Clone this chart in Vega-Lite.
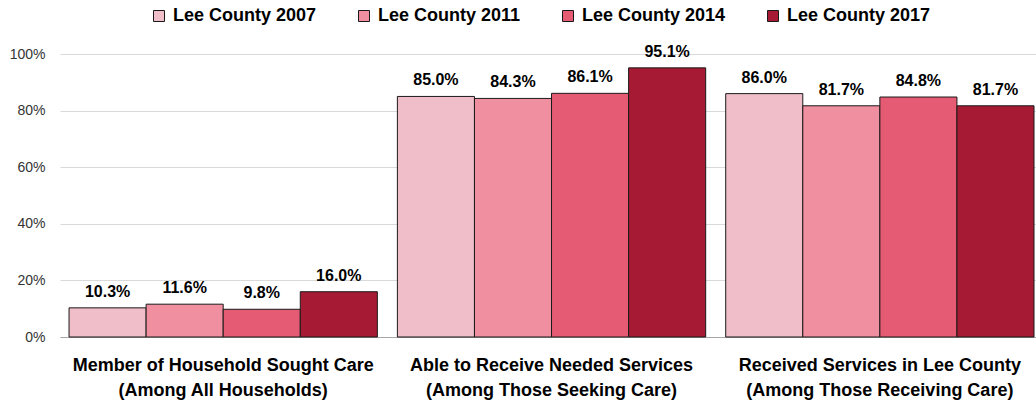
{
  "$schema": "https://vega.github.io/schema/vega-lite/v6.json",
  "width": 976,
  "height": 283,
  "autosize": {"type": "none"},
  "padding": {"left": 60, "top": 54, "right": 0, "bottom": 70},
  "background": "white",
  "data": {
    "values": [
      {"measure": "Member of Household Sought Care|(Among All Households)", "year": "Lee County 2007", "value": 0.103},
      {"measure": "Member of Household Sought Care|(Among All Households)", "year": "Lee County 2011", "value": 0.116},
      {"measure": "Member of Household Sought Care|(Among All Households)", "year": "Lee County 2014", "value": 0.098},
      {"measure": "Member of Household Sought Care|(Among All Households)", "year": "Lee County 2017", "value": 0.160},
      {"measure": "Able to Receive  Needed Services|(Among Those Seeking Care)", "year": "Lee County 2007", "value": 0.850},
      {"measure": "Able to Receive  Needed Services|(Among Those Seeking Care)", "year": "Lee County 2011", "value": 0.843},
      {"measure": "Able to Receive  Needed Services|(Among Those Seeking Care)", "year": "Lee County 2014", "value": 0.861},
      {"measure": "Able to Receive  Needed Services|(Among Those Seeking Care)", "year": "Lee County 2017", "value": 0.951},
      {"measure": "Received Services in Lee County|(Among Those Receiving Care)", "year": "Lee County 2007", "value": 0.860},
      {"measure": "Received Services in Lee County|(Among Those Receiving Care)", "year": "Lee County 2011", "value": 0.817},
      {"measure": "Received Services in Lee County|(Among Those Receiving Care)", "year": "Lee County 2014", "value": 0.848},
      {"measure": "Received Services in Lee County|(Among Those Receiving Care)", "year": "Lee County 2017", "value": 0.817}
    ]
  },
  "config": {
    "view": {"stroke": null},
    "font": "Liberation Sans"
  },
  "encoding": {
    "x": {
      "field": "measure",
      "type": "nominal",
      "sort": [
        "Member of Household Sought Care|(Among All Households)",
        "Able to Receive  Needed Services|(Among Those Seeking Care)",
        "Received Services in Lee County|(Among Those Receiving Care)"
      ],
      "scale": {"paddingInner": 0.061, "paddingOuter": 0.0168, "align": 0.82},
      "title": null,
      "axis": {
        "labelAngle": 0,
        "labelExpr": "split(datum.value, '|')",
        "labelFont": "Liberation Sans",
        "labelFontWeight": "bold",
        "labelFontSize": 18,
        "labelColor": "#000000",
        "labelLineHeight": 25,
        "labelPadding": 19,
        "labelBaseline": "top",
        "ticks": false,
        "domainColor": "#a6a6a6",
        "domainWidth": 1,
        "grid": false,
        "labelLimit": 400
      }
    },
    "xOffset": {
      "field": "year",
      "type": "nominal",
      "sort": ["Lee County 2007", "Lee County 2011", "Lee County 2014", "Lee County 2017"],
      "scale": {"paddingInner": 0, "paddingOuter": 0}
    },
    "y": {
      "field": "value",
      "type": "quantitative",
      "scale": {"domain": [0, 1]},
      "title": null,
      "axis": {
        "values": [0, 0.2, 0.4, 0.6, 0.8, 1],
        "format": ".0%",
        "labelFont": "Liberation Sans",
        "labelFontSize": 14,
        "labelColor": "#333333",
        "labelPadding": 15,
        "ticks": false,
        "domain": false,
        "gridColor": "#d9d9d9",
        "gridWidth": 1
      }
    }
  },
  "layer": [
    {
      "mark": {"type": "bar", "stroke": "#1a1a1a", "strokeWidth": 1},
      "encoding": {
        "color": {
          "field": "year",
          "type": "nominal",
          "sort": ["Lee County 2007", "Lee County 2011", "Lee County 2014", "Lee County 2017"],
          "scale": {
            "domain": ["Lee County 2007", "Lee County 2011", "Lee County 2014", "Lee County 2017"],
            "range": ["#f0bec8", "#ef8f9f", "#e55b73", "#a61b33"]
          },
          "legend": {
            "title": null,
            "orient": "none",
            "direction": "horizontal",
            "legendX": 90,
            "legendY": -47,
            "padding": 0,
            "symbolType": "square",
            "symbolSize": 121,
            "symbolStrokeColor": "#1a1a1a",
            "symbolStrokeWidth": 1,
            "labelFont": "Liberation Sans",
            "labelFontWeight": "bold",
            "labelFontSize": 18,
            "labelColor": "#000000",
            "labelOffset": 5,
            "columnPadding": 38,
            "labelLimit": 300
          }
        }
      }
    },
    {
      "mark": {
        "type": "text",
        "dy": -16,
        "baseline": "middle",
        "font": "Liberation Sans",
        "fontWeight": "bold",
        "fontSize": 16,
        "color": "#000000"
      },
      "encoding": {
        "text": {"field": "value", "type": "quantitative", "format": ".1%"}
      }
    }
  ]
}
